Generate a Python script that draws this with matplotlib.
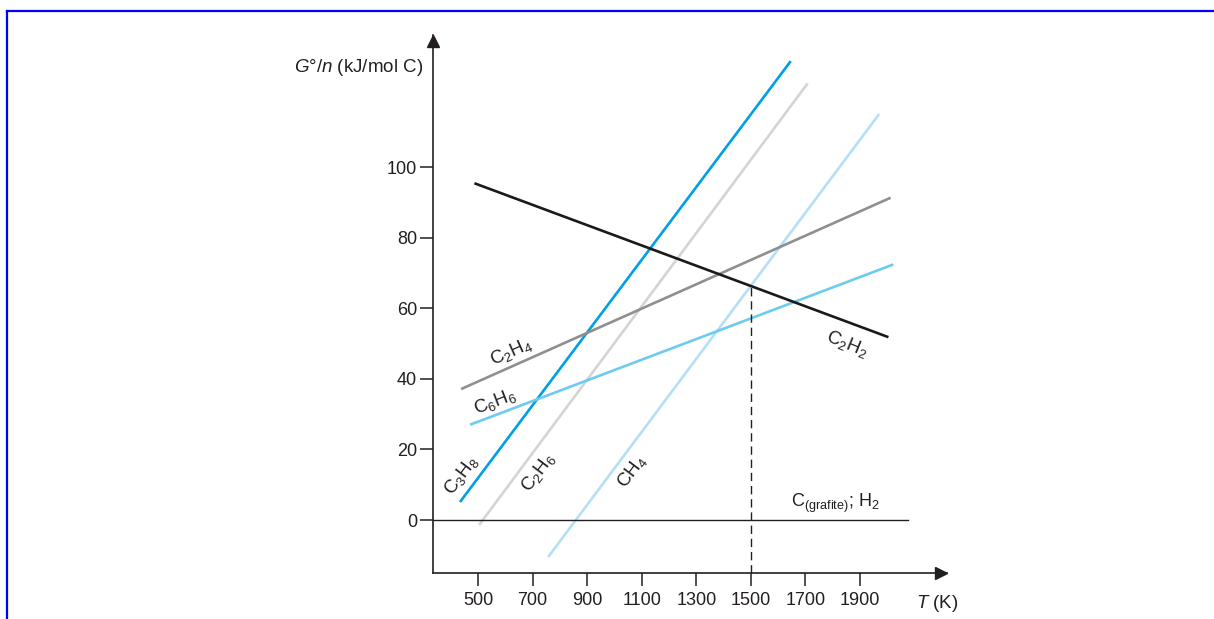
import matplotlib

matplotlib.use("Agg")
import matplotlib.pyplot as plt
from matplotlib.lines import Line2D

plt.rcParams.update(
    {
        "font.family": "Liberation Sans",
        "mathtext.fontset": "custom",
        "mathtext.rm": "Liberation Sans",
        "mathtext.it": "Liberation Sans:italic",
        "mathtext.bf": "Liberation Sans:bold",
        "font.size": 13,
    }
)

INK = "#231f20"

# free energy per carbon atom vs temperature (endpoints of each straight line)
species = ["C3H8", "C2H6", "CH4", "C2H4", "C6H6", "C2H2"]
temp_start = [434, 504, 757, 438, 471, 487]
temp_end = [1646, 1708, 1970, 2012, 2022, 2004]
g_start = [5.1, -1.4, -10.5, 37.1, 27.0, 95.4]
g_end = [130.0, 123.7, 115.0, 91.3, 72.4, 51.8]
colors = ["#00a0e3", "#d4d4d4", "#b3e0f7", "#8f8f8f", "#6ccbef", "#1a1a1a"]

# text labels: (text, T, G, rotation)
line_labels = [
    (r"C$_3$H$_8$", 440, 12.7, 53),
    (r"C$_2$H$_6$", 721, 13.6, 53),
    (r"CH$_4$", 1063, 13.6, 53),
    (r"C$_2$H$_4$", 623, 47.7, 24),
    (r"C$_6$H$_6$", 562, 33.5, 21),
    (r"C$_2$H$_2$", 1851, 50.0, -22),
]

x_ticks = [500, 700, 900, 1100, 1300, 1500, 1700, 1900]
y_ticks = [0, 20, 40, 60, 80, 100]
reference_temp = 1500
zero_line_end = 2075

W, H = 1214, 619
fig = plt.figure(figsize=(W / 100, H / 100), dpi=100)
ax = fig.add_axes([433 / W, (H - 573) / H, (947 - 433) / W, (573 - 35) / H])
ax.set_xlim(335.1, 2218.6)
ax.set_ylim(-15.01, 137.4)

for s in ("top", "right"):
    ax.spines[s].set_visible(False)
for s in ("left", "bottom"):
    ax.spines[s].set_linewidth(1.2)
    ax.spines[s].set_color(INK)

# axis arrow heads (tip sits at the axes corner)
ax.plot(0.988, 0, ">", transform=ax.transAxes, clip_on=False, color=INK, ms=9)
ax.plot(0, 0.988, "^", transform=ax.transAxes, clip_on=False, color=INK, ms=9)

ax.set_xticks(x_ticks)
ax.set_yticks(y_ticks)
ax.tick_params(axis="x", length=9.5, width=1.1, color=INK, labelcolor=INK, pad=4.5, labelsize=13)
ax.tick_params(axis="y", length=9.5, width=1.1, color=INK, labelcolor=INK, pad=2, labelsize=13)

for name, t0, t1, g0, g1, c in zip(species, temp_start, temp_end, g_start, g_end, colors):
    ax.plot([t0, t1], [g0, g1], color=c, lw=1.9, solid_capstyle="butt", label=name)

# reference level: graphite + H2
ax.plot([ax.get_xlim()[0], zero_line_end], [0, 0], color=INK, lw=1.0)
ax.text(1808, 4.7, r"C$_{\mathrm{(grafite)}}$; H$_2$", ha="center", va="center", color=INK, fontsize=13)

# dashed marker at 1500 K up to the C2H2 line
i = species.index("C2H2")
g_ref = g_start[i] + (reference_temp - temp_start[i]) * (g_end[i] - g_start[i]) / (temp_end[i] - temp_start[i])
ax.plot([reference_temp, reference_temp], [ax.get_ylim()[0], g_ref], color=INK, lw=1.0, ls=(0, (6, 3.5)))

for txt, t, g, rot in line_labels:
    ax.text(t, g, txt, ha="center", va="center", rotation=rot, rotation_mode="anchor", color=INK, fontsize=13.5)

fig.text(423 / W, 1 - 68 / H, r"$G$°/$n$ (kJ/mol C)", ha="right", va="center", color=INK, fontsize=13.5)
fig.text(937 / W, 1 - 603 / H, r"$T$ (K)", ha="center", va="center", color=INK, fontsize=13.5)

# blue frame (top and left edges)
fig.add_artist(Line2D([6.5 / W, 1], [1 - 10.8 / H, 1 - 10.8 / H], transform=fig.transFigure, color="#0000ff", lw=1.6))
fig.add_artist(Line2D([6.5 / W, 6.5 / W], [0, 1 - 10.8 / H], transform=fig.transFigure, color="#0000ff", lw=1.6))

fig.savefig("out.png", dpi=100)
